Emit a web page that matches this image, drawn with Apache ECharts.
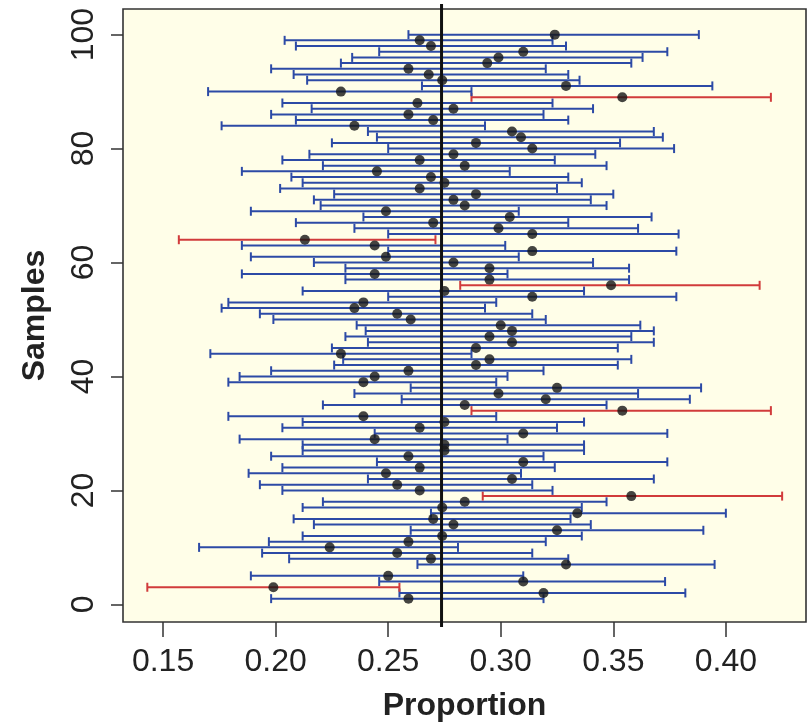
<!DOCTYPE html>
<html lang="en">
<head>
<meta charset="UTF-8">
<title>Samples vs Proportion</title>
<script src="https://cdn.jsdelivr.net/npm/echarts@6.0.0/dist/echarts.min.js"></script>
<style>
    html, body { margin: 0; padding: 0; background: #ffffff; }
    #main { width: 809px; height: 727px; }
</style>
</head>
<body>
<div id="main"></div>
<script>
    // sample proportions (samples 1..100, sample 6 not drawn in the figure)
    var phat = [0.259, 0.319, 0.199, 0.310, 0.250, null, 0.329, 0.269, 0.254, 0.224,
                0.259, 0.274, 0.325, 0.279, 0.270, 0.334, 0.274, 0.284, 0.358, 0.264,
                0.254, 0.305, 0.249, 0.264, 0.310, 0.259, 0.275, 0.275, 0.244, 0.310,
                0.264, 0.275, 0.239, 0.354, 0.284, 0.320, 0.299, 0.325, 0.239, 0.244,
                0.259, 0.289, 0.295, 0.229, 0.289, 0.305, 0.295, 0.305, 0.300, 0.260,
                0.254, 0.235, 0.239, 0.314, 0.275, 0.349, 0.295, 0.244, 0.295, 0.279,
                0.249, 0.314, 0.244, 0.213, 0.314, 0.299, 0.270, 0.304, 0.249, 0.284,
                0.279, 0.289, 0.264, 0.275, 0.269, 0.245, 0.284, 0.264, 0.279, 0.314,
                0.289, 0.309, 0.305, 0.235, 0.270, 0.259, 0.279, 0.263, 0.354, 0.229,
                0.329, 0.274, 0.268, 0.259, 0.294, 0.299, 0.310, 0.269, 0.264, 0.324];
    var lower = [0.198, 0.255, 0.143, 0.246, 0.189, null, 0.263, 0.206, 0.194, 0.166,
                 0.197, 0.212, 0.260, 0.217, 0.208, 0.269, 0.212, 0.221, 0.292, 0.203,
                 0.193, 0.241, 0.188, 0.203, 0.245, 0.198, 0.212, 0.212, 0.184, 0.244,
                 0.203, 0.212, 0.179, 0.287, 0.221, 0.256, 0.235, 0.260, 0.179, 0.184,
                 0.198, 0.226, 0.230, 0.171, 0.225, 0.241, 0.231, 0.240, 0.236, 0.199,
                 0.193, 0.176, 0.179, 0.250, 0.212, 0.282, 0.231, 0.185, 0.231, 0.217,
                 0.189, 0.250, 0.185, 0.157, 0.250, 0.235, 0.209, 0.239, 0.189, 0.220,
                 0.217, 0.226, 0.202, 0.212, 0.207, 0.185, 0.221, 0.203, 0.215, 0.250,
                 0.225, 0.245, 0.241, 0.176, 0.209, 0.198, 0.216, 0.203, 0.287, 0.170,
                 0.265, 0.214, 0.208, 0.198, 0.229, 0.234, 0.246, 0.209, 0.204, 0.259];
    var upper = [0.319, 0.382, 0.255, 0.373, 0.310, null, 0.395, 0.330, 0.314, 0.281,
                 0.320, 0.336, 0.390, 0.340, 0.331, 0.400, 0.336, 0.347, 0.425, 0.323,
                 0.314, 0.368, 0.309, 0.324, 0.374, 0.319, 0.337, 0.337, 0.303, 0.374,
                 0.325, 0.337, 0.298, 0.420, 0.347, 0.384, 0.361, 0.389, 0.298, 0.303,
                 0.319, 0.352, 0.358, 0.287, 0.352, 0.368, 0.358, 0.368, 0.362, 0.320,
                 0.314, 0.293, 0.298, 0.378, 0.337, 0.415, 0.357, 0.303, 0.357, 0.341,
                 0.308, 0.378, 0.302, 0.271, 0.379, 0.361, 0.330, 0.367, 0.308, 0.347,
                 0.340, 0.350, 0.325, 0.336, 0.330, 0.304, 0.347, 0.324, 0.342, 0.377,
                 0.353, 0.372, 0.368, 0.293, 0.330, 0.319, 0.341, 0.323, 0.420, 0.287,
                 0.394, 0.335, 0.330, 0.320, 0.358, 0.363, 0.374, 0.329, 0.323, 0.388];
    var trueP = 0.2737;
    var xTicks = [0.15, 0.20, 0.25, 0.30, 0.35, 0.40];
    var yTicks = [0, 20, 40, 60, 80, 100];

    var intervals = [], points = [];
    phat.forEach(function (p, i) {
        if (p === null) return;
        intervals.push([i + 1, lower[i], upper[i]]);
        points.push([p, i + 1]);
    });

    var myChart = echarts.init(document.getElementById('main'));
    var labelFont = 'Liberation Sans, Arial, Helvetica, sans-serif';

    var option = {
        animation: false,
        grid: {
            left: 123, right: 3, top: 9, bottom: 104,
            show: true,
            backgroundColor: '#fffee8',
            borderColor: '#333333',
            borderWidth: 1.6
        },
        xAxis: {
            type: 'value',
            min: 0.1322,
            max: 0.4356,
            name: 'Proportion',
            nameLocation: 'middle',
            nameGap: 68,
            nameTextStyle: { fontFamily: labelFont, fontSize: 32, fontWeight: 'bold', color: '#222' },
            axisLine: { show: false, onZero: false },
            splitLine: { show: false },
            axisTick: { show: true, length: 15, customValues: xTicks, lineStyle: { color: '#333', width: 1.5 } },
            axisLabel: {
                customValues: xTicks,
                margin: 24,
                fontFamily: labelFont, fontSize: 32, color: '#222',
                formatter: function (v) { return v.toFixed(2); }
            }
        },
        yAxis: {
            type: 'value',
            min: -3.1,
            max: 104.5,
            name: 'Samples',
            nameLocation: 'middle',
            nameRotate: 90,
            nameGap: 72,
            nameTextStyle: { fontFamily: labelFont, fontSize: 32, fontWeight: 'bold', color: '#222' },
            axisLine: { show: false, onZero: false },
            splitLine: { show: false },
            axisTick: { show: true, length: 12, customValues: yTicks, lineStyle: { color: '#333', width: 1.5 } },
            axisLabel: {
                customValues: yTicks,
                rotate: 90,
                margin: 23,
                fontFamily: labelFont, fontSize: 32, color: '#222'
            }
        },
        series: [
            {
                type: 'custom',
                z: 2,
                encode: { x: [1, 2], y: 0 },
                data: intervals,
                renderItem: function (params, api) {
                    var y = api.value(0);
                    var a = api.coord([api.value(1), y]);
                    var b = api.coord([api.value(2), y]);
                    var miss = api.value(2) < trueP || api.value(1) > trueP;
                    var st = { stroke: miss ? '#d13b3b' : '#2c4aa6', lineWidth: 2 };
                    var cap = 4.5;
                    return {
                        type: 'group',
                        children: [
                            { type: 'line', shape: { x1: a[0], y1: a[1], x2: b[0], y2: b[1] }, style: st },
                            { type: 'line', shape: { x1: a[0], y1: a[1] - cap, x2: a[0], y2: a[1] + cap }, style: st },
                            { type: 'line', shape: { x1: b[0], y1: b[1] - cap, x2: b[0], y2: b[1] + cap }, style: st }
                        ]
                    };
                }
            },
            {
                // true proportion
                type: 'custom',
                z: 3,
                encode: { x: 0 },
                data: [[trueP]],
                clip: false,
                renderItem: function (params, api) {
                    var cs = params.coordSys;
                    var x = api.coord([api.value(0), 0])[0];
                    return {
                        type: 'line',
                        shape: { x1: x, y1: cs.y - 5, x2: x, y2: cs.y + cs.height + 5 },
                        style: { stroke: '#111', lineWidth: 3 }
                    };
                }
            },
            {
                type: 'scatter',
                z: 4,
                data: points,
                symbol: 'circle',
                symbolSize: 10,
                itemStyle: { color: '#151515' }
            }
        ]
    };
    myChart.setOption(option);
</script>
</body>
</html>
